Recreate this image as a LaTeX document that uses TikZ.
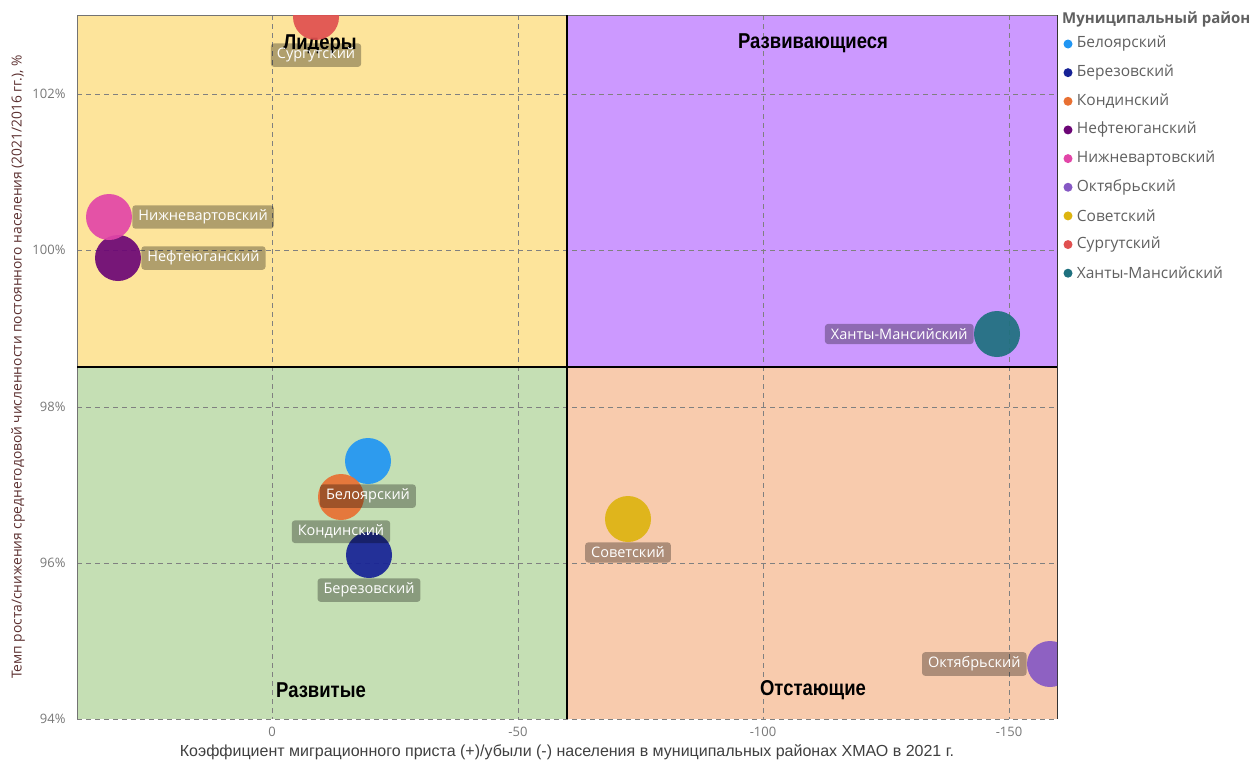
\documentclass[tikz,border=0pt]{standalone}
\usepackage{fontspec}
\setmainfont{Open Sans}
\newfontfamily\narrowfont[FakeStretch=0.86]{Liberation Sans}
\newfontfamily\axisfont{Liberation Sans}
\usepackage{xcolor}
\usepackage{tikz}
\usetikzlibrary{positioning}

\definecolor{leadfill}{RGB}{253,228,155}
\definecolor{growfill}{RGB}{204,153,255}
\definecolor{devfill}{RGB}{197,223,180}
\definecolor{lagfill}{RGB}{248,203,173}
\definecolor{cBel}{RGB}{33,150,243}
\definecolor{cBer}{RGB}{22,34,150}
\definecolor{cKon}{RGB}{232,112,50}
\definecolor{cNef}{RGB}{108,6,118}
\definecolor{cNiz}{RGB}{226,70,168}
\definecolor{cOkt}{RGB}{134,88,196}
\definecolor{cSov}{RGB}{221,180,16}
\definecolor{cSur}{RGB}{224,80,80}
\definecolor{cHan}{RGB}{30,112,126}
\definecolor{tickgray}{RGB}{120,120,120}
\definecolor{leggray}{RGB}{96,96,96}
\definecolor{ytitle}{RGB}{92,48,48}

\begin{document}
\begin{tikzpicture}[x=1pt, y=-1pt,
	bubble/.style={circle, minimum size=46pt, inner sep=0pt, fill opacity=0.92},
	tag/.style={fill=black, fill opacity=0.3, text opacity=1, text=white, rounded corners=3pt,
		inner xsep=6pt, inner ysep=4.5pt, font=\fontsize{14.5}{16}\selectfont},
	quad/.style={font=\narrowfont\bfseries\fontsize{21.5}{23}\selectfont},
	tick/.style={text=tickgray, font=\fontsize{13}{15}\selectfont},
	legdot/.style={circle, minimum size=9pt, inner sep=0pt},
	legtext/.style={text=leggray, anchor=west, inner sep=0pt, font=\fontsize{15.5}{17}\selectfont},
	gridline/.style={dash pattern=on 5pt off 4pt, draw=black!50, line width=0.8pt}]
	\useasboundingbox (0,0) rectangle (1259,763);
	\fill[white] (0,0) rectangle (1259,763);
	% quadrants
	\fill[leadfill] (77,15) rectangle (567,367);
	\fill[growfill] (567,15) rectangle (1057,367);
	\fill[devfill] (77,367) rectangle (567,719);
	\fill[lagfill] (567,367) rectangle (1057,719);
	% grid
	\draw[gridline] (272,15) -- (272,719);
	\draw[gridline] (518,15) -- (518,719);
	\draw[gridline] (763,15) -- (763,719);
	\draw[gridline] (1009,15) -- (1009,719);
	\draw[gridline] (77,94) -- (1057,94);
	\draw[gridline] (77,250) -- (1057,250);
	\draw[gridline] (77,407) -- (1057,407);
	\draw[gridline] (77,563) -- (1057,563);
	\draw[gridline] (77,719) -- (1057,719);
	% frame
	\draw[line width=1pt, black!55] (77,719) -- (77,15) -- (1057,15);
	\draw[line width=1pt, black!80] (1057,15) -- (1057,719);
	\draw[line width=1.3pt] (567,15) -- (567,719);
	\draw[line width=1.3pt] (77,367) -- (1057,367);
	% quadrant titles
	\node[quad] (leaders) at (320,44) {Лидеры};
	\node[quad] (growing) at (813,43) {Развивающиеся};
	\node[quad] (developed) at (321,690) {Развитые};
	\node[quad] (lagging) at (813,690) {Отстающие};
	% bubbles
	\begin{scope}
		\clip (77,15) rectangle (1057,719);
		\node[bubble, fill=cBel] (bel) at (368,461) {};
		\node[bubble, fill=cBer] (ber) at (369,555) {};
		\node[bubble, fill=cKon] (kon) at (341,497) {};
		\node[bubble, fill=cNef] (nef) at (118,258) {};
		\node[bubble, fill=cNiz] (niz) at (109,217) {};
		\node[bubble, fill=cOkt] (okt) at (1050,664) {};
		\node[bubble, fill=cSov] (sov) at (628,519) {};
		\node[bubble, fill=cSur] (sur) at (316,17) {};
		\node[bubble, fill=cHan] (han) at (997,334) {};
	\end{scope}
	% labels
	\node[tag, below=0pt of bel] (belTag) {Белоярский};
	\node[tag, below=0pt of ber] (berTag) {Березовский};
	\node[tag, below=0pt of kon] (konTag) {Кондинский};
	\node[tag, right=0pt of nef] (nefTag) {Нефтеюганский};
	\node[tag, right=0pt of niz] (nizTag) {Нижневартовский};
	\node[tag, left=0pt of okt] (oktTag) {Октябрьский};
	\node[tag, below=3pt of sur] (surTag) {Сургутский};
	\node[tag, below=0pt of sov] (sovTag) {Советский};
	\node[tag, left=0pt of han] (hanTag) {Ханты-Мансийский};
	% axes
	\node[tick, anchor=east] (y102) at (69,94) {102\%};
	\node[tick, anchor=east] (y100) at (69,250) {100\%};
	\node[tick, anchor=east] (y98) at (69,407) {98\%};
	\node[tick, anchor=east] (y96) at (69,563) {96\%};
	\node[tick, anchor=east] (y94) at (69,719) {94\%};
	\node[tick] (x0) at (272,732) {0};
	\node[tick] (x50) at (518,732) {-50};
	\node[tick] (x100) at (763,732) {-100};
	\node[tick] (x150) at (1009,732) {-150};
	\node[text=black!75, font=\axisfont\fontsize{16}{18}\selectfont] (xTitle) at (567,752)
		{Коэффициент миграционного приста (+)/убыли (-) населения в муниципальных районах ХМАО в 2021 г.};
	\node[text=ytitle, rotate=90, font=\fontsize{13.8}{15}\selectfont] (yTitle) at (18,367)
		{Темп роста/снижения среднегодовой численности постоянного населения (2021/2016 гг.), \%};
	% legend
	\node[anchor=west, inner sep=0pt, text=leggray, font=\bfseries\fontsize{15}{17}\selectfont] (legTitle) at (1062,19) {Муниципальный район};
	\node[legdot, fill=cBel] (dBel) at (1068,44) {};
	\node[legtext, right=4pt of dBel] (tBel) {Белоярский};
	\node[legdot, fill=cBer, below=19.25pt of dBel] (dBer) {};
	\node[legtext, right=4pt of dBer] (tBer) {Березовский};
	\node[legdot, fill=cKon, below=19.25pt of dBer] (dKon) {};
	\node[legtext, right=4pt of dKon] (tKon) {Кондинский};
	\node[legdot, fill=cNef, below=19.25pt of dKon] (dNef) {};
	\node[legtext, right=4pt of dNef] (tNef) {Нефтеюганский};
	\node[legdot, fill=cNiz, below=19.25pt of dNef] (dNiz) {};
	\node[legtext, right=4pt of dNiz] (tNiz) {Нижневартовский};
	\node[legdot, fill=cOkt, below=19.25pt of dNiz] (dOkt) {};
	\node[legtext, right=4pt of dOkt] (tOkt) {Октябрьский};
	\node[legdot, fill=cSov, below=19.25pt of dOkt] (dSov) {};
	\node[legtext, right=4pt of dSov] (tSov) {Советский};
	\node[legdot, fill=cSur, below=19.25pt of dSov] (dSur) {};
	\node[legtext, right=4pt of dSur] (tSur) {Сургутский};
	\node[legdot, fill=cHan, below=19.25pt of dSur] (dHan) {};
	\node[legtext, right=4pt of dHan] (tHan) {Ханты-Мансийский};
\end{tikzpicture}
\end{document}
